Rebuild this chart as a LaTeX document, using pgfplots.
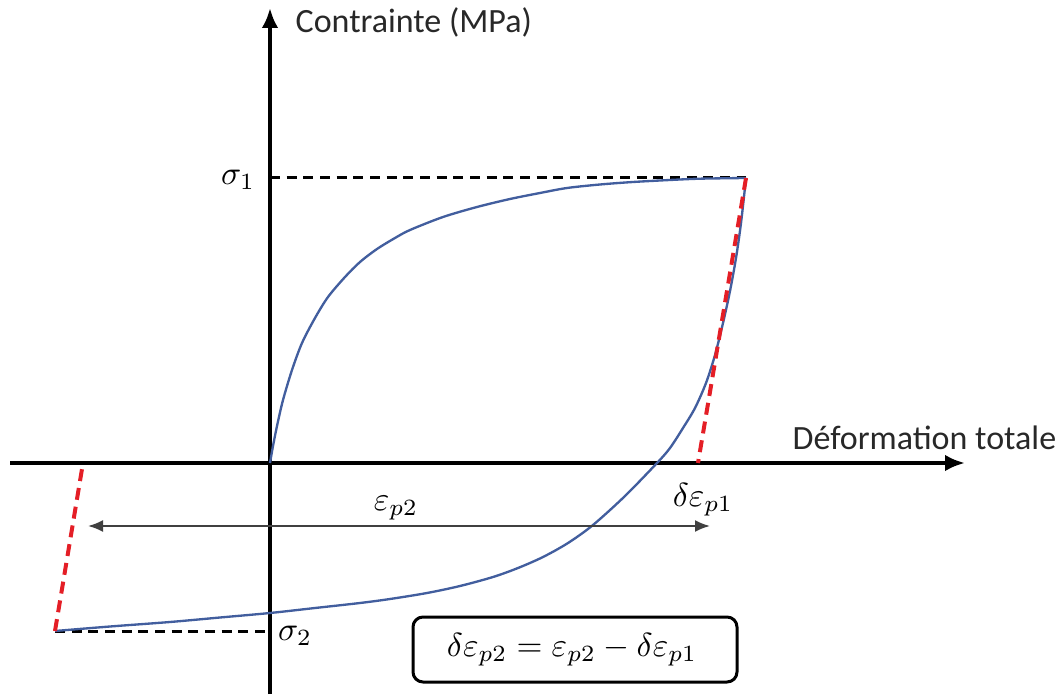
\documentclass[border=0pt]{standalone}
\usepackage{fontspec}
\setmainfont{Carlito}
\usepackage{pgfplots}
\pgfplotsset{compat=1.18}
\usetikzlibrary{arrows.meta}
\definecolor{curveblue}{RGB}{66,94,158}
\definecolor{dashred}{RGB}{228,30,38}
\definecolor{txt}{RGB}{40,40,40}

\begin{document}
\begin{tikzpicture}
  \begin{axis}[
      scale only axis,
      width=318.3pt, height=208.2pt,
      xmin=-270, xmax=791,
      ymin=-231, ymax=463,
      axis lines=none,
      clip=false,
      font=\fontsize{10.2}{12}\selectfont]

    % invisible frame, keeps the picture at the reference size
    \draw[draw=none] (rel axis cs:0,0) rectangle (rel axis cs:1,1);

    % axes
    \addplot[line width=1.2pt, -{Latex[length=6pt,width=5pt]}] coordinates {(-260,0) (695,0)};
    \addplot[line width=1.2pt, -{Latex[length=6pt,width=5pt]}] coordinates {(0,-231) (0,455)};

    % stress levels
    \addplot[line width=0.9pt, dash pattern=on 3pt off 2pt] coordinates {(0,285) (476,285)};
    \addplot[line width=0.9pt, dash pattern=on 3pt off 2pt] coordinates {(-215,-168) (0,-168)};

    % loading
    \addplot[curveblue, line width=0.7pt, smooth] coordinates {
      (0,0) (3,17) (7,37) (13,63) (22,93) (32,120) (45,145) (58,166) (75,186)
      (90,201) (107,214) (125,225) (140,233) (173,246) (207,256) (240,264)
      (270,270) (297,275) (330,278.5) (363,281) (400,283) (430,284.3) (476,285)
    };
    % unloading
    \addplot[curveblue, line width=0.7pt, smooth] coordinates {
      (476,285) (471,240) (466,205) (460,172) (453,140) (445,108) (436,80) (425,55)
      (413,35) (400,15) (387,0) (355,-33) (323,-62) (298,-80) (273,-94) (248,-105)
      (223,-114) (190,-123) (157,-130) (120,-136) (90,-140) (45,-145) (0,-150)
      (-50,-154.5) (-100,-159) (-160,-163.5) (-215,-168)
    };

    % elastic unloading lines
    \addplot[dashred, line width=1.2pt, dash pattern=on 3.6pt off 2.1pt] coordinates {(476,285) (428,0)};
    \addplot[dashred, line width=1.2pt, dash pattern=on 3.6pt off 2.1pt] coordinates {(-215,-168) (-187,0)};

    % plastic strain range
    \addplot[black!75, line width=0.6pt, {Latex[length=4.5pt,width=3.6pt]}-{Latex[length=4.5pt,width=3.6pt]}]
      coordinates {(-182,-63) (440,-63)};

    \node[txt, anchor=west, inner sep=0pt] at (axis cs:25,441) {Contrainte (MPa)};
    \node[txt, anchor=west, inner sep=0pt] at (axis cs:522,25) {Déformation totale};
    \node at (axis cs:-32,283) {$\sigma_1$};
    \node at (axis cs:25,-173) {$\sigma_2$};
    \node at (axis cs:126,-45) {$\varepsilon_{p2}$};
    \node at (axis cs:433,-37) {$\delta\varepsilon_{p1}$};

    \draw[rounded corners=3pt, line width=0.9pt] (axis cs:143,-154) rectangle (axis cs:467,-219);
    \node at (axis cs:302,-187) {$\delta\varepsilon_{p2}=\varepsilon_{p2}-\delta\varepsilon_{p1}$};
  \end{axis}
\end{tikzpicture}
\end{document}
